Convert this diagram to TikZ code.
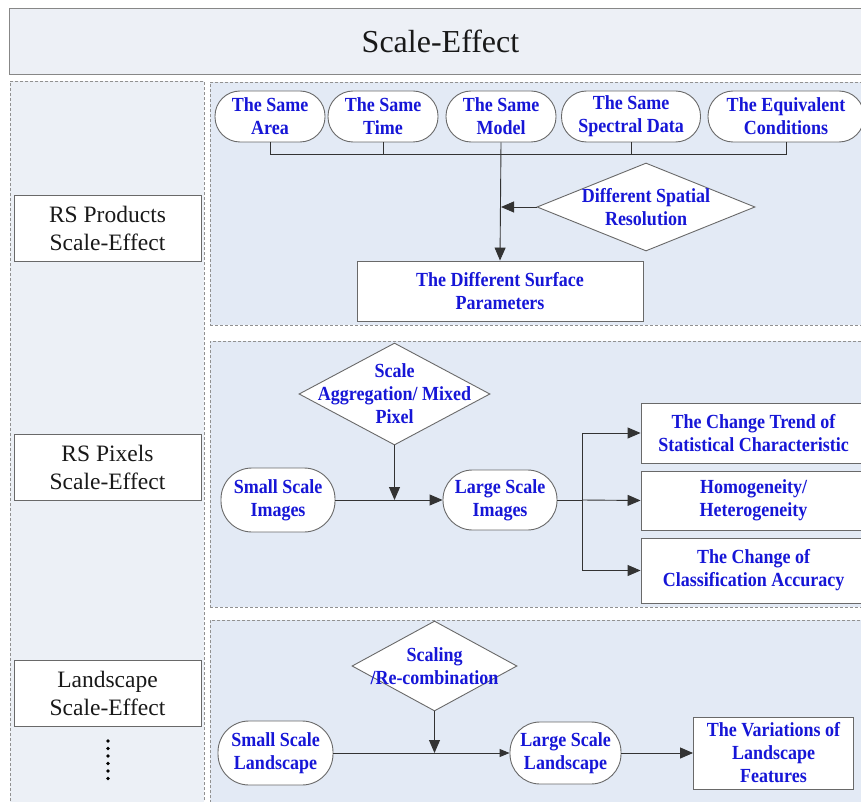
\documentclass[tikz,border=0pt]{standalone}
\usepackage{fontspec}
\setmainfont{Liberation Serif}
\newfontfamily\bluefont[FakeStretch=0.9]{Liberation Serif}
\usetikzlibrary{shapes.geometric,arrows.meta}
\definecolor{panelfill}{RGB}{227,234,245}
\definecolor{leftfill}{RGB}{236,240,246}
\definecolor{titlefill}{RGB}{237,240,246}
\definecolor{dashgray}{RGB}{145,145,145}
\definecolor{nodegray}{RGB}{105,105,105}
\definecolor{txtblue}{RGB}{22,22,215}
\definecolor{txtdark}{RGB}{25,25,25}
\tikzset{
  panel/.style={rectangle, draw=dashgray, dash pattern=on 3pt off 2pt, fill=panelfill, line width=0.9pt, anchor=north west, inner sep=0pt},
  leftcol/.style={panel, fill=leftfill},
  titlebox/.style={rectangle, draw=nodegray!80, fill=titlefill, line width=1pt, anchor=north west, inner sep=0pt,
    font=\fontsize{32}{36}\selectfont, text=txtdark},
  bt/.style={font=\bluefont\fontsize{20}{23}\selectfont\bfseries, text=txtblue, align=center},
  stad/.style={rectangle, draw=nodegray, fill=white, line width=0.9pt, inner sep=0pt, bt},
  rbox/.style={rectangle, draw=nodegray, fill=white, line width=0.9pt, inner sep=0pt, bt},
  dia/.style={diamond, draw=nodegray, fill=white, line width=0.9pt, inner sep=0pt},
  lbox/.style={rectangle, draw=nodegray, fill=white, line width=0.9pt, inner sep=0pt,
    font=\fontsize{23.5}{28}\selectfont, text=txtdark, align=center},
  conn/.style={draw=black!80, line width=0.9pt},
  arr/.style={conn, -{Triangle[length=13pt,width=11pt]}},
  arrs/.style={conn, -{Triangle[length=10pt,width=8pt]}},
}
\begin{document}
\begin{tikzpicture}[x=1pt,y=-1pt]
\useasboundingbox (0,0) rectangle (861,802);
\clip (0,0) rectangle (861,802);
\fill[white] (0,0) rectangle (861,802);

% frames
\node[titlebox, minimum width=862, minimum height=66] (title) at (9,8) {Scale-Effect};
\node[leftcol, minimum width=194, minimum height=740] (leftc) at (10,81) {};
\node[panel, minimum width=660, minimum height=243] (p1) at (210,82) {};
\node[panel, minimum width=660, minimum height=266] (p2) at (210,341) {};
\node[panel, minimum width=660, minimum height=200] (p3) at (210,620) {};

% left labels
\node[lbox, minimum width=187, minimum height=66] (rsprod) at (107.5,228) {RS Products\\Scale-Effect};
\node[lbox, minimum width=187, minimum height=66] (rspix) at (107.5,467) {RS Pixels\\Scale-Effect};
\node[lbox, minimum width=187, minimum height=66] (landsc) at (107.5,693.5) {Landscape\\Scale-Effect};
\foreach \i in {0,...,5} \fill[black] (108,741+\i*7.5) circle (1.8);

% panel 1
\coordinate (bus) at (0,154);
\node[stad, rounded corners=25pt, minimum width=110, minimum height=51] (area) at (270,116.5) {The Same\\Area};
\node[stad, rounded corners=25pt, minimum width=110, minimum height=51] (time) at (383,116.5) {The Same\\Time};
\node[stad, rounded corners=25pt, minimum width=110, minimum height=51] (model) at (501,116.5) {The Same\\Model};
\node[stad, rounded corners=25pt, minimum width=139, minimum height=51] (spectral) at (631,116.5) {The Same\\Spectral Data};
\node[stad, rounded corners=25pt, minimum width=156, minimum height=51] (equiv) at (786,116.5) {The Equivalent\\Conditions};
\node[rbox, minimum width=286, minimum height=60] (surface) at (500,291) {The Different Surface\\Parameters};
\node[dia, minimum width=218, minimum height=88,
      label={[bt]center:{Different Spatial\\Resolution}}] (dsr) at (646,207) {};

\draw[conn] (area.south) -- (area.south |- bus) -- (equiv.south |- bus) -- (equiv.south);
\draw[conn] (time.south) -- (time.south |- bus);
\draw[conn] (spectral.south) -- (spectral.south |- bus);
\draw[arr] (model.south) -- (surface.north);
\draw[arr] (dsr.west) -- (model.south |- dsr.west);

% panel 2
\node[dia, minimum width=191, minimum height=102,
      label={[bt]center:{Scale\\Aggregation/ Mixed\\Pixel}}] (agg) at (394.5,394) {};
\node[stad, rounded corners=31pt, minimum width=114, minimum height=64] (smallimg) at (278,500) {Small Scale\\Images};
\node[stad, rounded corners=29.5pt, minimum width=114, minimum height=60] (largeimg) at (500,500) {Large Scale\\Images};
\node[rbox, minimum width=225, minimum height=60] (trend) at (753.5,433) {The Change Trend of\\Statistical Characteristic};
\node[rbox, minimum width=225, minimum height=59] (homog) at (753.5,500.5) {Homogeneity/\\Heterogeneity};
\node[rbox, minimum width=225, minimum height=65] (classif) at (753.5,570.5) {The Change of\\Classification Accuracy};
\coordinate (br) at (582,500);

\draw[arr] (agg.south) -- (agg.south |- smallimg.east);
\draw[arr] (smallimg.east) -- (largeimg.west);
\draw[conn] (largeimg.east) -- (br);
\draw[arr] (br) |- (trend.west);
\draw[arr] (br) -- (homog.west);
\draw[arr] (br) |- (classif.west);

% panel 3
\node[dia, minimum width=165, minimum height=90,
      label={[bt]center:{Scaling\\/Re-combination}}] (scaling) at (434.5,666) {};
\node[stad, rounded corners=31pt, minimum width=115, minimum height=64] (smallland) at (275.5,753) {Small Scale\\Landscape};
\node[stad, rounded corners=30pt, minimum width=111, minimum height=62] (largeland) at (565.5,753) {Large Scale\\Landscape};
\node[rbox, minimum width=160, minimum height=72] (variations) at (773.5,753) {The Variations of\\Landscape\\Features};

\draw[arr] (scaling.south) -- (scaling.south |- smallland.east);
\draw[arrs] (smallland.east) -- (largeland.west);
\draw[arr] (largeland.east) -- (variations.west);
\end{tikzpicture}
\end{document}
